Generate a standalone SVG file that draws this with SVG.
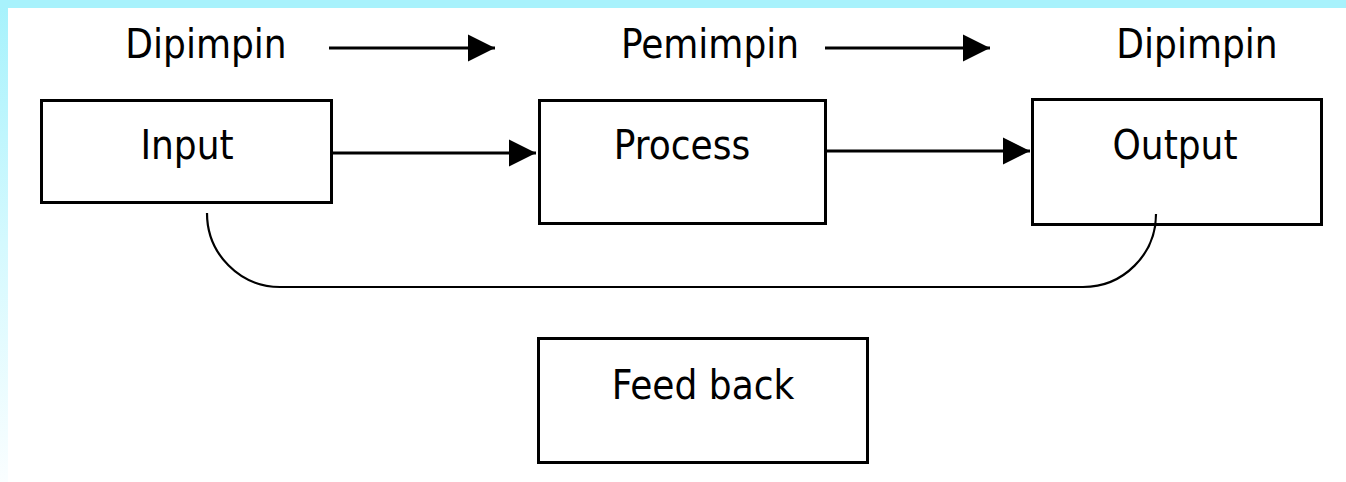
<svg xmlns="http://www.w3.org/2000/svg" width="1346" height="482" viewBox="0 0 1346 482">
  <defs>
    <linearGradient id="bg" x1="0" y1="0" x2="0" y2="1">
      <stop offset="0" stop-color="#a6f2fc"/>
      <stop offset="0.5" stop-color="#d4f9fe"/>
      <stop offset="1" stop-color="#fafeff"/>
    </linearGradient>
    <marker id="arrow" markerUnits="userSpaceOnUse" markerWidth="28" markerHeight="28" refX="27" refY="14" orient="auto" viewBox="0 0 28 28">
      <path d="M0,0.5 L27,14 L0,27.5 Z" fill="#000"/>
    </marker>
  </defs>
  <style>
    .box { fill: #fff; stroke: #000; stroke-width: 3; }
    .lbl { font-family: "DejaVu Sans Condensed", "DejaVu Sans", sans-serif; font-size: 40px; fill: #000; text-anchor: middle; }
    .conn { fill: none; stroke: #000; stroke-width: 3; }
    .curve { fill: none; stroke: #000; stroke-width: 2.2; }
  </style>
  <rect x="0" y="0" width="1346" height="482" fill="url(#bg)"/>
  <rect x="0" y="0" width="1346" height="8" fill="#a8f2fc"/>
  <rect x="8" y="8" width="1338" height="474" fill="#fff"/>

  <g id="top-labels">
    <text class="lbl" x="206" y="58">Dipimpin</text>
    <text class="lbl" x="710" y="58">Pemimpin</text>
    <text class="lbl" x="1197" y="58">Dipimpin</text>
  </g>

  <g id="connectors">
    <line class="conn" x1="329" y1="48" x2="495" y2="48" marker-end="url(#arrow)"/>
    <line class="conn" x1="825" y1="48" x2="990" y2="48" marker-end="url(#arrow)"/>
    <line class="conn" x1="333" y1="153" x2="536" y2="153" marker-end="url(#arrow)"/>
    <line class="conn" x1="827" y1="151" x2="1030" y2="151" marker-end="url(#arrow)"/>
  </g>

  <g id="input">
    <rect class="box" x="41.5" y="100.5" width="290" height="102"/>
    <text class="lbl" x="187" y="159">Input</text>
  </g>
  <g id="process">
    <rect class="box" x="539.5" y="100.5" width="286" height="123"/>
    <text class="lbl" x="682" y="159">Process</text>
  </g>
  <g id="output">
    <rect class="box" x="1032.5" y="99.5" width="289" height="125"/>
    <text class="lbl" x="1175" y="159">Output</text>
  </g>
  <g id="feedback">
    <rect class="box" x="538.5" y="338.5" width="329" height="124"/>
    <text class="lbl" x="703" y="399">Feed back</text>
  </g>

  <g id="feedback-curve">
    <path class="curve" d="M207,213 A73,74 0 0 0 280,287 H1083 A73,73 0 0 0 1156,214"/>
  </g>
</svg>
